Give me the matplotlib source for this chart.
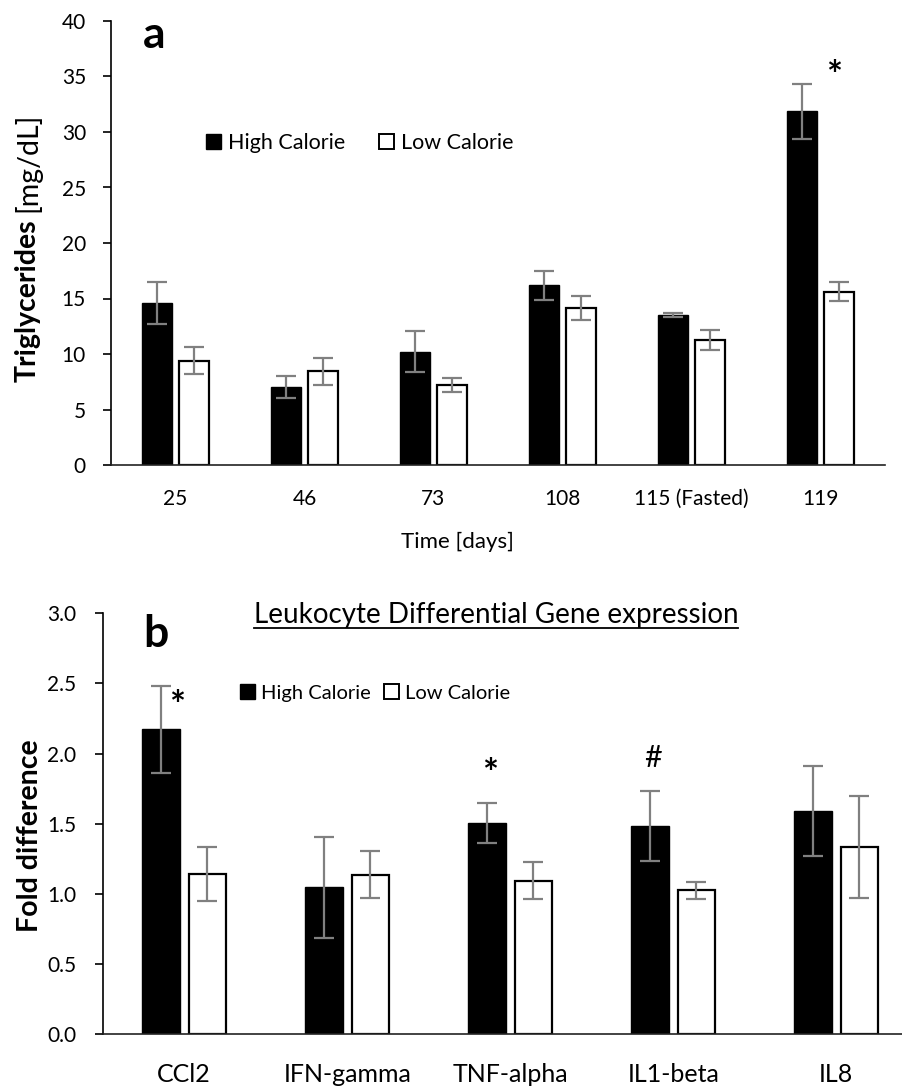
import matplotlib
matplotlib.use("Agg")
from matplotlib import pyplot as plt
from matplotlib.patches import Patch
from matplotlib.lines import Line2D
import numpy as np

plt.rcParams['font.family'] = ['Lato', 'DejaVu Sans']

# panel a: triglycerides over time
days = ["25", "46", "73", "108", "115 (Fasted)", "119"]
tg_high = [14.6, 7.0, 10.2, 16.2, 13.5, 31.85]
tg_high_err = [1.9, 1.0, 1.85, 1.3, 0.15, 2.5]
tg_low = [9.4, 8.45, 7.2, 14.15, 11.3, 15.6]
tg_low_err = [1.2, 1.2, 0.6, 1.1, 0.9, 0.85]
tg_sig_x = [5.105]
tg_sig_y = [36.0]
tg_sig = ["*"]

# panel b: leukocyte gene expression
genes = ["CCl2", "IFN-gamma", "TNF-alpha", "IL1-beta", "IL8"]
fold_high = [2.173, 1.045, 1.505, 1.481, 1.588]
fold_high_err = [0.31, 0.36, 0.14, 0.25, 0.32]
fold_low = [1.141, 1.137, 1.094, 1.025, 1.332]
fold_low_err = [0.19, 0.165, 0.13, 0.06, 0.365]
fold_sig_x = [-0.045, 1.876, 2.876]
fold_sig_y = [2.41, 1.93, 1.98]
fold_sig = ["*", "*", "#"]

W, H = 903, 1088
fig = plt.figure(figsize=(W / 100, H / 100), dpi=100)


def fx(px):
    return px / W


def fy(py):
    return 1 - py / H


err_style = dict(ecolor="#808080", elinewidth=1.6, capsize=7, capthick=1.6)


def draw_bars(ax, high, high_err, low, low_err):
    x = np.arange(len(high))
    off = 0.142
    w = 0.228
    ax.bar(x - off, high, w, color="black", edgecolor="black", linewidth=1,
           yerr=high_err, error_kw=err_style, zorder=2)
    ax.bar(x + off, low, w, color="white", edgecolor="black", linewidth=1.6,
           yerr=low_err, error_kw=err_style, zorder=2)
    ax.set_xlim(-0.5, len(high) - 0.5)
    ax.set_xticks(x)
    for s in ["top", "right"]:
        ax.spines[s].set_visible(False)
    ax.spines["left"].set_linewidth(1.2)
    ax.spines["bottom"].set_linewidth(1.2)
    ax.spines["bottom"].set_color("#222222")
    ax.tick_params(axis="y", length=6, width=1.2, labelsize=15, pad=12)
    ax.tick_params(axis="x", length=0)


def sig_marks(ax, xs, ys, marks):
    # put the glyph centre on the given point
    for x, y, s in zip(xs, ys, marks):
        if s == "#":
            ax.annotate(s, (x, y), xytext=(0, -8), textcoords="offset points",
                        ha="center", va="baseline", fontsize=22)
        else:
            ax.annotate(s, (x, y), xytext=(0, -16), textcoords="offset points",
                        ha="center", va="baseline", fontsize=27, fontweight="bold")


def legend(ax, x, y, size, spacing):
    handles = [Patch(facecolor="black", edgecolor="black", linewidth=1),
               Patch(facecolor="white", edgecolor="black", linewidth=1.4)]
    ax.legend(handles, ["High Calorie", "Low Calorie"], ncol=2, frameon=False,
              loc="center left", bbox_to_anchor=(fx(x), fy(y)),
              bbox_transform=fig.transFigure, fontsize=size,
              handlelength=0.72, handleheight=0.72, handletextpad=0.3,
              columnspacing=spacing, borderpad=0, borderaxespad=0)


# ---- panel a ----
ax_a = fig.add_axes([fx(111), fy(465), fx(885 - 111), (465 - 21) / H])
draw_bars(ax_a, tg_high, tg_high_err, tg_low, tg_low_err)
ax_a.set_ylim(0, 40)
ax_a.set_yticks(range(0, 41, 5))
ax_a.set_xticklabels(days, fontsize=15)
ax_a.tick_params(axis="x", pad=17)
sig_marks(ax_a, tg_sig_x, tg_sig_y, tg_sig)
legend(ax_a, 206, 143, 15.5, 1.55)

fig.text(fx(143), fy(48), "a", fontsize=32, fontweight="bold", va="baseline")
fig.text(fx(457), fy(548), "Time [days]", fontsize=16, ha="center", va="baseline")
ylab = fig.text(fx(36), fy(382), "Triglycerides", fontsize=20.5, fontweight="bold",
                rotation=90, rotation_mode="anchor", ha="left", va="baseline")

# ---- panel b ----
ax_b = fig.add_axes([fx(102.7), fy(1034), fx(917.7 - 102.7), (1034 - 613.3) / H])
draw_bars(ax_b, fold_high, fold_high_err, fold_low, fold_low_err)
ax_b.set_ylim(0, 3)
ax_b.set_yticks(np.arange(0, 3.01, 0.5))
ax_b.set_yticklabels([f"{v:.1f}" for v in np.arange(0, 3.01, 0.5)])
ax_b.tick_params(axis="y", pad=13)
ax_b.set_xticklabels(genes, fontsize=18)
ax_b.tick_params(axis="x", pad=21)
sig_marks(ax_b, fold_sig_x, fold_sig_y, fold_sig)
legend(ax_b, 240, 693, 14.5, 0.7)

fig.text(fx(143), fy(647), "b", fontsize=32, fontweight="bold", va="baseline")
fig.text(fx(38), fy(932), "Fold difference", fontsize=20.5, fontweight="bold",
         rotation=90, rotation_mode="anchor", ha="left", va="baseline")
title = fig.text(fx(496), fy(623), "Leukocyte Differential Gene expression",
                 fontsize=20, ha="center", va="baseline")

# underline the title, and continue the y label after the bold part
fig.canvas.draw()
r = fig.canvas.get_renderer()
bb = title.get_window_extent(r)
fig.add_artist(Line2D([bb.x0 / W, bb.x1 / W], [fy(628), fy(628)],
                      transform=fig.transFigure, color="black", linewidth=1.3))
yb = ylab.get_window_extent(r)
fig.text(fx(36), (yb.y1 + 7) / H, "[mg/dL]", fontsize=20.5,
         rotation=90, rotation_mode="anchor", ha="left", va="baseline")

fig.savefig("out.png", dpi=100)
